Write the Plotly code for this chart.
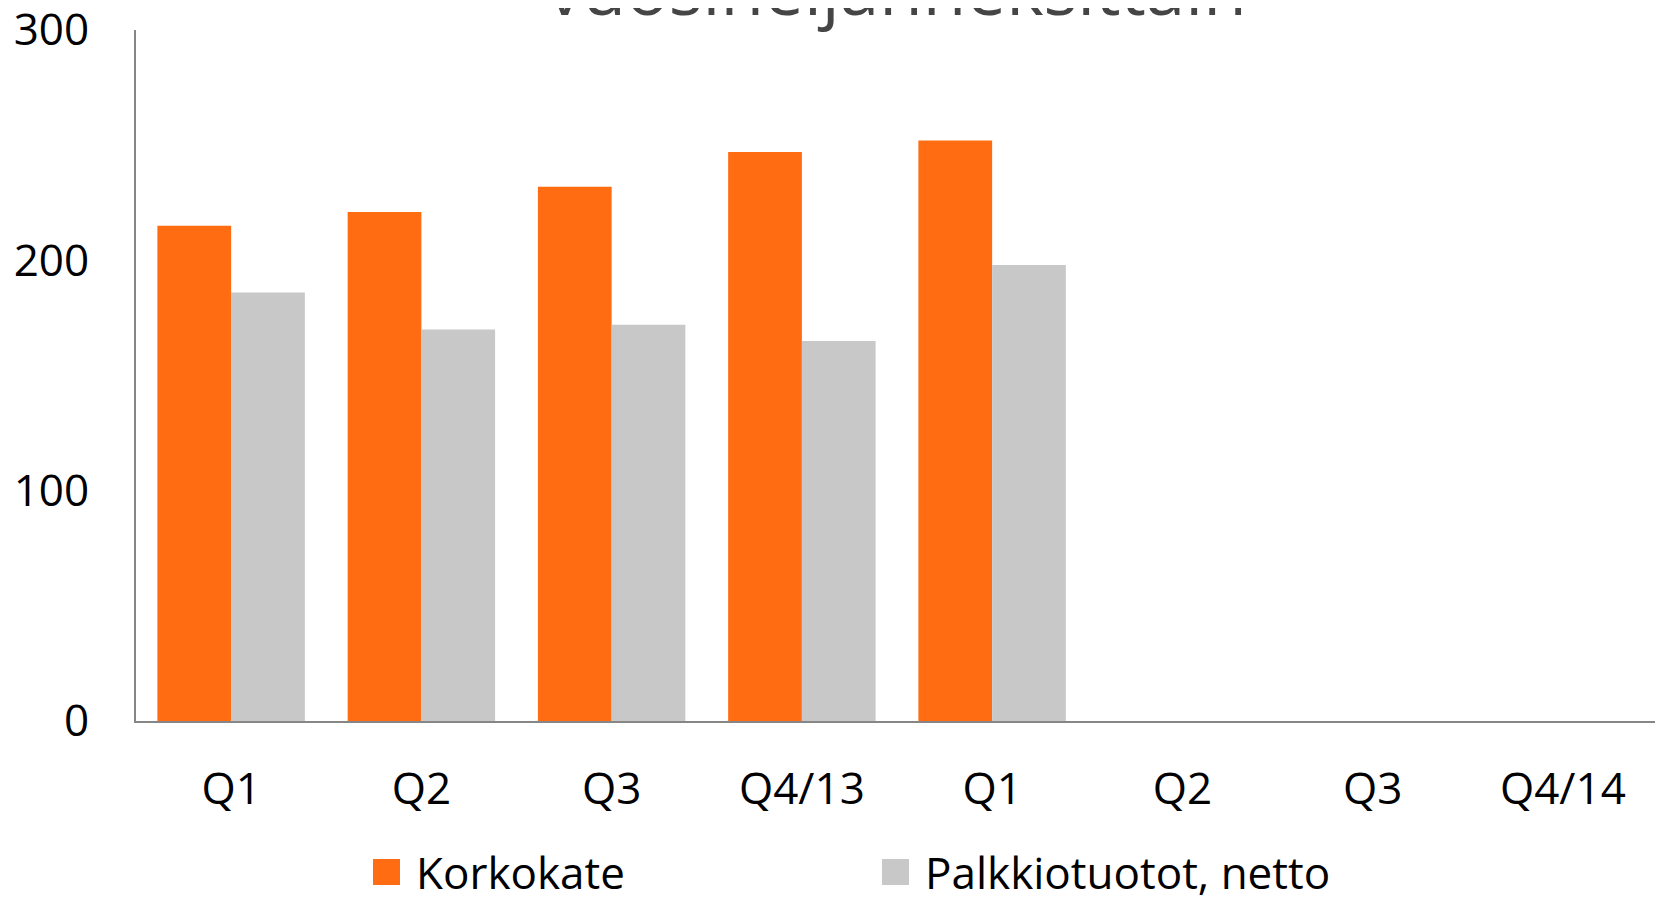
import plotly.graph_objects as go

# quarterly figures, milj. euroa
quarters = ['Q1', 'Q2', 'Q3', 'Q4/13', 'Q1', 'Q2', 'Q3', 'Q4/14']
korkokate = [215, 221, 232, 247, 252, None, None, None]
palkkiotuotot = [186, 170, 172, 165, 198, None, None, None]
series_names = ['Korkokate', 'Palkkiotuotot, netto']

ORANGE = '#FF6C12'
GREY = '#C8C8C8'
FONT = 'Open Sans'

# the page body has an 8px margin, so the figure is sized/placed to land where the original does
OFF = 8
W, H = 1663 - OFF, 900 - OFF
L, R, T, B = 136 - OFF, 5, 30 - OFF, 179
PW, PH = W - L - R, H - T - B

pos = list(range(len(quarters)))

fig = go.Figure()

# ---------------- bars ----------------
fig.add_trace(go.Bar(x=pos, y=korkokate, name=series_names[0],
                     marker=dict(color=ORANGE, line=dict(width=0))))
fig.add_trace(go.Bar(x=pos, y=palkkiotuotot, name=series_names[1],
                     marker=dict(color=GREY, line=dict(width=0))))

# ---------------- legend: drawn by hand so the squares can be as big as the original ----------------
def px_x(p):
    return (p - OFF - L) / PW

def px_y(p):
    return (H - B - (p - OFF)) / PH

leg_y = 872
for left, name, col in [(373, series_names[0], ORANGE), (882, series_names[1], GREY)]:
    fig.add_shape(type='rect', xref='paper', yref='paper',
                  x0=px_x(left), x1=px_x(left + 27), y0=px_y(leg_y + 13), y1=px_y(leg_y - 13),
                  fillcolor=col, line=dict(width=0))
    fig.add_annotation(text=name, xref='paper', yref='paper',
                       x=px_x(left + 41), y=px_y(leg_y), xanchor='left', yanchor='middle',
                       showarrow=False, font=dict(family=FONT, size=44, color='black'))

# ---------------- title (top line cut off like the original) ----------------
fig.add_annotation(text='vuosineljänneksittäin', xref='paper', yref='paper',
                   x=0.5, y=px_y(-12), xanchor='center', yanchor='middle',
                   showarrow=False, font=dict(family=FONT, size=71, color='#454545'))

fig.update_layout(
    width=W, height=H,
    margin=dict(l=L, r=R, t=T, b=B),
    plot_bgcolor='white', paper_bgcolor='white',
    barmode='group', bargap=0.225, bargroupgap=0,
    showlegend=False,
    font=dict(family=FONT, size=44, color='black'),
)
fig.update_xaxes(range=[-0.5, len(quarters) - 0.5], tickvals=pos, ticktext=quarters,
                 showgrid=False, zeroline=False, showline=True, linecolor='#868686',
                 linewidth=2, ticks='', ticklabelstandoff=28, automargin=False,
                 tickfont=dict(family=FONT, size=44, color='black'))
fig.update_yaxes(range=[0, 300], tickvals=[0, 100, 200, 300],
                 showgrid=False, zeroline=False, showline=True, linecolor='#868686',
                 linewidth=2, ticks='', ticklabelstandoff=36, automargin=False,
                 ticklabeloverflow='allow',
                 tickfont=dict(family=FONT, size=44, color='black'))

fig.write_html('out.html')
